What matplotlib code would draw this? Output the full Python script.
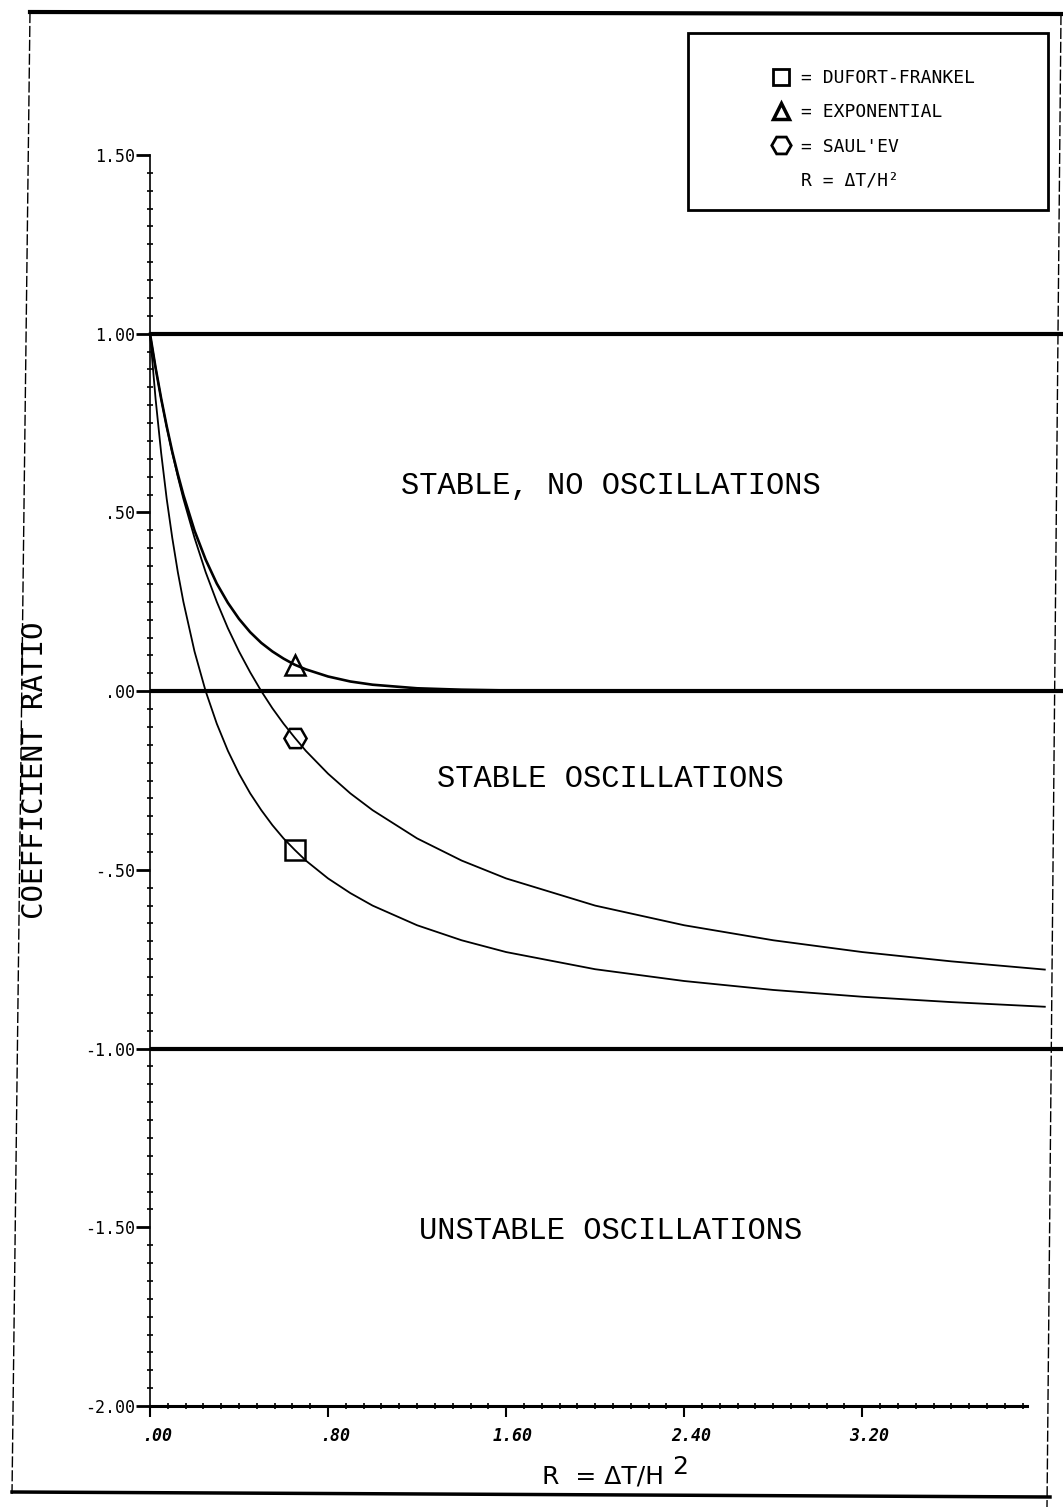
import matplotlib
matplotlib.use("Agg")
import matplotlib.pyplot as plt
import matplotlib.transforms as mtransforms
from matplotlib.lines import Line2D
from matplotlib.patches import Rectangle
from matplotlib.ticker import MultipleLocator

# values
r_vals = [0.0, 0.025, 0.05, 0.075, 0.1, 0.125, 0.15, 0.2, 0.25, 0.3, 0.35, 0.4, 0.45, 0.5,
          0.55, 0.6, 0.65, 0.7, 0.8, 0.9, 1.0, 1.2, 1.4, 1.6, 2.0, 2.4, 2.8, 3.2, 3.6, 4.02]
dufort = [1.0, 0.818, 0.667, 0.538, 0.429, 0.333, 0.25, 0.111, 0.0, -0.091, -0.167, -0.231, -0.286, -0.333,
          -0.375, -0.412, -0.444, -0.474, -0.524, -0.565, -0.60, -0.655, -0.697, -0.73, -0.778, -0.811,
          -0.836, -0.855, -0.87, -0.883]
saulyev = [1.0, 0.905, 0.818, 0.739, 0.667, 0.60, 0.538, 0.429, 0.333, 0.25, 0.176, 0.111, 0.053, 0.0,
           -0.048, -0.091, -0.13, -0.167, -0.231, -0.286, -0.333, -0.412, -0.474, -0.524, -0.60, -0.655,
           -0.697, -0.73, -0.756, -0.779]
expo = [1.0, 0.905, 0.819, 0.741, 0.67, 0.607, 0.549, 0.449, 0.368, 0.301, 0.247, 0.202, 0.165, 0.135,
        0.111, 0.091, 0.074, 0.061, 0.041, 0.027, 0.018, 0.008, 0.004, 0.002, 0.0, 0.0,
        0.0, 0.0, 0.0, 0.0]

marker_r = [0.65]
dufort_mark = [-0.444]
saulyev_mark = [-0.13]
expo_mark = [0.074]

bound_r = [0.0, 4.10]
bounds = [1.0, 0.0, -1.0]

xticks = [0.0, 0.8, 1.6, 2.4, 3.2]
xticklabels = [".00", ".80", "1.60", "2.40", "3.20"]
yticks = [1.5, 1.0, 0.5, 0.0, -0.5, -1.0, -1.5, -2.0]
yticklabels = ["1.50", "1.00", ".50", ".00", "-.50", "-1.00", "-1.50", "-2.00"]

regions = ["STABLE, NO OSCILLATIONS", "STABLE OSCILLATIONS", "UNSTABLE OSCILLATIONS"]
region_x = [2.07, 2.07, 2.07]
region_y = [0.574, -0.246, -1.51]

legend_labels = ["= DUFORT-FRANKEL", "= EXPONENTIAL", "= SAUL'EV", "R = \u0394T/H\u00b2"]

W, H = 1063, 1507
fig = plt.figure(figsize=(W / 100, H / 100), dpi=100)
ax = fig.add_axes([150 / W, 1 - 1406 / H, 877 / W, 1251 / H])

mono = "DejaVu Sans Mono"

# stability boundaries
for b in bounds:
    ax.plot(bound_r, [b, b], color="black", lw=3, clip_on=False, solid_capstyle="butt")

ax.plot(r_vals, dufort, color="black", lw=1.3, clip_on=False)
ax.plot(r_vals, saulyev, color="black", lw=1.3, clip_on=False)
ax.plot(r_vals, expo, color="black", lw=1.9, clip_on=False)

mk = dict(linestyle="none", mfc="none", mec="black", mew=1.8, zorder=5)
ax.plot(marker_r, dufort_mark, marker="s", ms=14, **mk)
ax.plot(marker_r, saulyev_mark, marker="H", ms=16, **mk)
ax.plot(marker_r, expo_mark, marker="^", ms=15, **mk)

for txt, x, y in zip(regions, region_x, region_y):
    ax.text(x, y, txt, ha="center", va="center", fontsize=22,
            family="Liberation Mono", color="black")

ax.set_xlim(0, 3.94)
ax.set_ylim(-2.0, 1.5)
for s in ["top", "right"]:
    ax.spines[s].set_visible(False)
ax.spines["left"].set_linewidth(1.2)
ax.spines["bottom"].set_linewidth(2.2)

ax.set_xticks(xticks)
ax.set_xticklabels(xticklabels, family=mono, fontsize=12, fontstyle="italic", fontweight="bold")
ax.set_yticks(yticks)
ax.set_yticklabels(yticklabels, family=mono, fontsize=12)
ax.xaxis.set_minor_locator(MultipleLocator(0.08))
ax.yaxis.set_minor_locator(MultipleLocator(0.05))
ax.tick_params(axis="x", which="major", direction="out", length=8, width=1.5, pad=7)
ax.tick_params(axis="y", which="major", direction="out", length=10, width=2, pad=1)
ax.tick_params(which="minor", direction="inout", length=5, width=1.2)

# tick labels sit a little right of their ticks on the plotter output
offset = mtransforms.ScaledTranslation(7 / 100, 0, fig.dpi_scale_trans)
for lab in ax.get_xticklabels():
    lab.set_transform(lab.get_transform() + offset)

fig.text(35 / W, 1 - 770 / H, "COEFFICIENT RATIO", rotation=90, ha="center", va="center",
         family=mono, fontsize=21)
fig.text(603 / W, 1 - 1476 / H, "R  = \u0394T/H", ha="center", va="center",
         family="DejaVu Sans", fontsize=18)
fig.text(680 / W, 1 - 1467 / H, "2", ha="center", va="center", family="DejaVu Sans", fontsize=18)

# key box
handles = [
    Line2D([], [], linestyle="none", marker="s", ms=12, mfc="none", mec="black", mew=2),
    Line2D([], [], linestyle="none", marker="^", ms=12, mfc="none", mec="black", mew=2.5),
    Line2D([], [], linestyle="none", marker="H", ms=14, mfc="none", mec="black", mew=2),
    Line2D([], [], linestyle="none"),
]
fig.legend(handles, legend_labels, loc="upper left", bbox_to_anchor=(758 / W, 1 - 60 / H),
           frameon=False, borderpad=0, handlelength=1.5, handletextpad=0.4,
           labelspacing=0.9, prop={"family": mono, "size": 13})
fig.add_artist(Rectangle((688 / W, 1 - 210 / H), 360 / W, 177 / H, transform=fig.transFigure,
                         fill=False, lw=2, ec="black"))

# page border of the scanned sheet
fig.add_artist(Line2D([30 / W, 1.0], [1 - 12 / H, 1 - 14 / H], transform=fig.transFigure, color="black", lw=3))
fig.add_artist(Line2D([30 / W, 12 / W], [1 - 12 / H, 1 - 1494 / H], transform=fig.transFigure, color="black", lw=1, ls=(0, (8, 2))))
fig.add_artist(Line2D([12 / W, 1050 / W], [1 - 1492 / H, 1 - 1497 / H], transform=fig.transFigure, color="black", lw=2.5))
fig.add_artist(Line2D([1061 / W, 1047 / W], [1 - 14 / H, 0.0], transform=fig.transFigure, color="black", lw=1, ls=(0, (8, 2))))

fig.savefig("out.png", dpi=100)
